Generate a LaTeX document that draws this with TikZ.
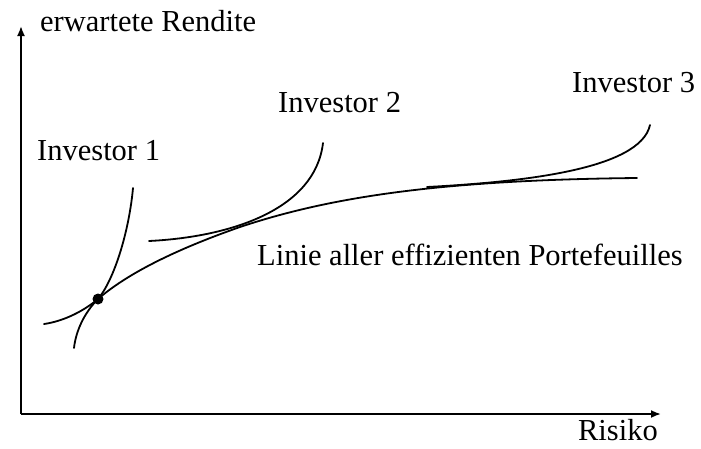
\documentclass[tikz,border=0pt]{standalone}
\usepackage{fontspec}
\setmainfont{Liberation Serif}
\usetikzlibrary{arrows.meta}
\begin{document}
\begin{tikzpicture}[x=1pt,y=-1pt,
  lbl/.style={inner sep=0pt,font=\fontsize{30.5}{34}\selectfont},
  curve/.style={line width=1.8pt,line cap=round},
  axis/.style={line width=1.8pt,-{Latex[length=10pt,width=8pt]}}]
\useasboundingbox (0,0) rectangle (701,448);
% axes
\coordinate (O) at (21,414);
\coordinate (ytop) at (21,26);
\coordinate (xend) at (661,414);
\draw[axis] (O) -- (ytop);
\draw[axis] (O) -- (xend);
% labels
\node[lbl,anchor=base west] (ylab) at (40,31) {erwartete Rendite};
\node[lbl,anchor=base east] (xlab) at (658,440) {Risiko};
\node[lbl,anchor=base west] (inv1) at (37,160) {Investor 1};
\node[lbl,anchor=base west] (inv2) at (278,112) {Investor 2};
\node[lbl,anchor=base west] (inv3) at (572,92) {Investor 3};
\node[lbl,anchor=base west] (eff) at (257,265) {Linie aller effizienten Portefeuilles};
% key points
\coordinate (P) at (98,299);
\coordinate (F0) at (44,324);
\coordinate (F1) at (240,227);
\coordinate (F2) at (637,178);
% efficient frontier
\draw[curve] (F0) .. controls (65,321) and (85,310) .. (P)
  .. controls (120,280) and (160,255) .. (F1)
  .. controls (330,197) and (440,180) .. (F2);
% investor 1 indifference curve
\coordinate (A0) at (74,348);
\coordinate (A1) at (133,188);
\draw[curve] (A0) .. controls (76,330) and (85,312) .. (P)
  .. controls (114,280) and (129,232) .. (A1);
% investor 2 indifference curve
\coordinate (B0) at (149,241);
\coordinate (B1) at (323,143);
\draw[curve] (B0) .. controls (230,237) and (315,210) .. (B1);
% investor 3 indifference curve
\coordinate (C0) at (427,187);
\coordinate (C1) at (650,125);
\draw[curve] (C0) .. controls (520,182) and (640,170) .. (C1);
% dot
\node[circle,fill=black,inner sep=0pt,minimum size=11pt] (dot) at (P) {};
\end{tikzpicture}
\end{document}
